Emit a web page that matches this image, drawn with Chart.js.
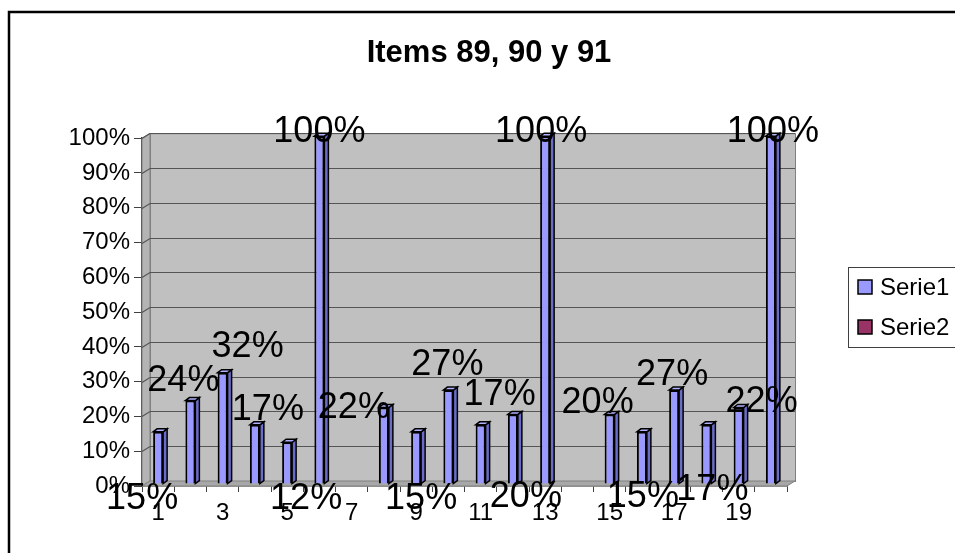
<!DOCTYPE html>
<html>
<head>
<meta charset="utf-8">
<script src="https://cdn.jsdelivr.net/npm/chart.js@4.4.0/dist/chart.umd.min.js"></script>
<style>
  html, body { margin: 0; padding: 0; background: #fff; overflow: hidden; }
  canvas { display: block; }
</style>
</head>
<body>
<canvas id="chart" width="955" height="553"></canvas>
<script>
const categories = ["1","2","3","4","5","6","7","8","9","10","11","12","13","14","15","16","17","18","19","20"];
const serie1 = [15, 24, 32, 17, 12, 100, null, 22, 15, 27, 17, 20, 100, null, 20, 15, 27, 17, 22, 100];
const serie2 = [null, null, null, null, null, null, null, null, null, null, null, null, null, null, null, null, null, null, null, null];
const yTickLabels = ["0%","10%","20%","30%","40%","50%","60%","70%","80%","90%","100%"];

// where Excel left each data label, relative to the top of its bar (px)
const labelShift = [[-16,65],[-7,-21],[25,-28],[13,-17],[19,55],[0,-6],null,[-30,-1],[5,65],[-1,-27],
                    [19,-32],[13,81],[-4,-6],null,[-12,-13],[1,63],[-2,-17],[6,63],[23,-7],[2,-6]];

const FONT = "'Liberation Sans', Arial, sans-serif";
const DEPTH_X = 8, DEPTH_Y = 5;

// grey walls + floor of the 3d plot, and the 3d faces of the bars
const walls3d = {
  id: "walls3d",
  beforeDatasetsDraw(chart) {
    const { ctx, chartArea: a, scales: { y } } = chart;
    ctx.save();
    ctx.lineWidth = 1;
    ctx.strokeStyle = "#808080";
    // back wall
    ctx.fillStyle = "#c0c0c0";
    ctx.fillRect(a.left + DEPTH_X, a.top - DEPTH_Y, a.right - a.left, a.bottom - a.top);
    ctx.strokeRect(a.left + DEPTH_X + 0.5, a.top - DEPTH_Y + 0.5, a.right - a.left, a.bottom - a.top);
    // side wall
    ctx.fillStyle = "#b4b4b4";
    ctx.beginPath();
    ctx.moveTo(a.left, a.top);
    ctx.lineTo(a.left + DEPTH_X, a.top - DEPTH_Y);
    ctx.lineTo(a.left + DEPTH_X, a.bottom - DEPTH_Y);
    ctx.lineTo(a.left, a.bottom);
    ctx.closePath();
    ctx.fill();
    ctx.stroke();
    // floor
    ctx.fillStyle = "#a8a8a8";
    ctx.beginPath();
    ctx.moveTo(a.left, a.bottom);
    ctx.lineTo(a.left + DEPTH_X, a.bottom - DEPTH_Y);
    ctx.lineTo(a.right + DEPTH_X, a.bottom - DEPTH_Y);
    ctx.lineTo(a.right, a.bottom);
    ctx.closePath();
    ctx.fill();
    ctx.stroke();
    // gridlines
    ctx.strokeStyle = "#555";
    ctx.lineWidth = 1.2;
    y.ticks.forEach(t => {
      const py = Math.round(y.getPixelForValue(t.value)) + 0.5;
      if (t.value === 0) return;
      ctx.beginPath();
      ctx.moveTo(a.left, py);
      ctx.lineTo(a.left + DEPTH_X, py - DEPTH_Y);
      ctx.lineTo(a.right + DEPTH_X, py - DEPTH_Y);
      ctx.stroke();
    });
    ctx.restore();
    ctx.save();
    ctx.translate(0, -2);
  },
  afterDatasetsDraw(chart) {
    const { ctx } = chart;
    const meta = chart.getDatasetMeta(0);
    ctx.lineWidth = 1.5;
    ctx.strokeStyle = "#000";
    meta.data.forEach((bar, i) => {
      if (serie1[i] == null) return;
      const { x, y, width, base } = bar.getProps(["x", "y", "width", "base"], true);
      const r = x + width / 2, l = x - width / 2, d = 4, dd = 3;
      ctx.fillStyle = "#6b6bc8";
      ctx.beginPath();
      ctx.moveTo(r, y); ctx.lineTo(r + d, y - dd); ctx.lineTo(r + d, base - dd); ctx.lineTo(r, base);
      ctx.closePath(); ctx.fill(); ctx.stroke();
      ctx.fillStyle = "#b0b0ff";
      ctx.beginPath();
      ctx.moveTo(l, y); ctx.lineTo(l + d, y - dd); ctx.lineTo(r + d, y - dd); ctx.lineTo(r, y);
      ctx.closePath(); ctx.fill(); ctx.stroke();
    });
    ctx.restore();
  },
  afterDraw(chart) {
    const { ctx } = chart;
    const meta = chart.getDatasetMeta(0);
    ctx.save();
    // data labels
    ctx.font = "36px " + FONT;
    ctx.fillStyle = "#000";
    ctx.textAlign = "center";
    ctx.textBaseline = "middle";
    meta.data.forEach((bar, i) => {
      if (serie1[i] == null || !labelShift[i]) return;
      ctx.fillText(serie1[i] + "%", bar.x + labelShift[i][0], bar.y + labelShift[i][1]);
    });
    // legend box
    ctx.lineWidth = 1;
    ctx.strokeStyle = "#404040";
    ctx.strokeRect(848.5, 267.5, 140, 80);
    ctx.font = "24px " + FONT;
    ctx.textAlign = "left";
    chart.data.datasets.forEach((ds, k) => {
      const ty = 287 + k * 40;
      ctx.fillStyle = ds.backgroundColor;
      ctx.fillRect(858, ty - 7, 14, 14);
      ctx.lineWidth = 1.5;
      ctx.strokeStyle = "#000";
      ctx.strokeRect(858, ty - 7, 14, 14);
      ctx.fillStyle = "#000";
      ctx.fillText(ds.label, 880, ty + 1);
    });
    // outer chart border (the box runs past the picture right and bottom)
    ctx.lineWidth = 2.5;
    ctx.strokeStyle = "#000";
    ctx.beginPath();
    ctx.moveTo(9, 560);
    ctx.lineTo(9, 12);
    ctx.lineTo(960, 12);
    ctx.stroke();
    ctx.restore();
  }
};

new Chart(document.getElementById("chart"), {
  type: "bar",
  data: {
    labels: categories,
    datasets: [
      { label: "Serie1", data: serie1, backgroundColor: "#9999ff", borderColor: "#000", borderWidth: 2, grouped: false },
      { label: "Serie2", data: serie2, backgroundColor: "#993366", borderColor: "#000", borderWidth: 2, grouped: false }
    ]
  },
  options: {
    responsive: false,
    animation: false,
    devicePixelRatio: 1,
    layout: { padding: { left: 23, right: 0, top: 0, bottom: 0 } },
    datasets: { bar: { barPercentage: 0.31, categoryPercentage: 1 } },
    plugins: {
      legend: { display: false },
      tooltip: { enabled: false },
      title: {
        display: true,
        text: "Items 89, 90 y 91",
        color: "#000",
        font: { family: FONT, size: 31, weight: "bold", lineHeight: 1.2 },
        padding: { top: 35, bottom: 66 }
      }
    },
    scales: {
      x: {
        afterFit: s => { s.height = 67; },
        grid: { offset: true, drawOnChartArea: false, tickLength: 6, color: "#404040", lineWidth: 1 },
        border: { color: "#404040", width: 1.5 },
        ticks: {
          autoSkip: false,
          maxRotation: 0,
          padding: 7,
          color: "#000",
          font: { family: FONT, size: 24 },
          callback: (v, i) => (i % 2 === 0 ? categories[i] : "")
        }
      },
      y: {
        min: 0,
        max: 100,
        afterFit: s => { s.width = 119; },
        grid: { drawOnChartArea: false, tickLength: 8, color: "#404040", lineWidth: 1 },
        border: { color: "#404040", width: 1.5 },
        ticks: {
          stepSize: 10,
          padding: 4,
          color: "#000",
          font: { family: FONT, size: 24 },
          callback: (v, i) => yTickLabels[i]
        }
      },
      // empty right-hand axis that keeps the room where the legend sits
      legendRoom: {
        type: "linear",
        position: "right",
        afterFit: s => { s.width = 168; },
        grid: { display: false },
        border: { display: false },
        ticks: { display: false }
      }
    }
  },
  plugins: [walls3d]
});
</script>
</body>
</html>
